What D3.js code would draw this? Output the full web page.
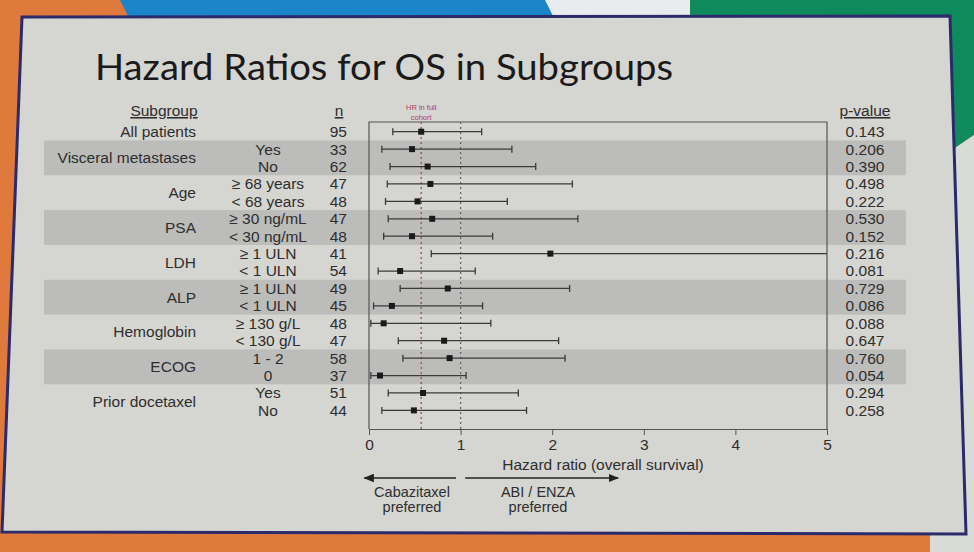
<!DOCTYPE html>
<html>
<head>
<meta charset="utf-8">
<script src="https://cdn.jsdelivr.net/npm/d3@7"></script>
<style>
  html, body { margin: 0; padding: 0; background: #e07a3c; }
  svg { display: block; }
</style>
</head>
<body>
<svg id="chart" width="974" height="552"></svg>
<script>
// ---------- data ----------
const groupLabels = ["All patients", "Visceral metastases", "Age", "PSA", "LDH", "ALP", "Hemoglobin", "ECOG", "Prior docetaxel"];
const groupRows   = [[0], [1, 2], [3, 4], [5, 6], [7, 8], [9, 10], [11, 12], [13, 14], [15, 16]];
const levelLabels = ["", "Yes", "No", "≥ 68 years", "< 68 years", "≥ 30 ng/mL", "< 30 ng/mL", "≥ 1 ULN", "< 1 ULN",
                     "≥ 1 ULN", "< 1 ULN", "≥ 130 g/L", "< 130 g/L", "1 - 2", "0", "Yes", "No"];
const nValues   = [95, 33, 62, 47, 48, 47, 48, 41, 54, 49, 45, 48, 47, 58, 37, 51, 44];
const hrValues  = [0.57, 0.47, 0.64, 0.67, 0.53, 0.69, 0.47, 1.98, 0.34, 0.86, 0.25, 0.16, 0.82, 0.88, 0.12, 0.59, 0.49];
const ciLow     = [0.26, 0.14, 0.23, 0.20, 0.18, 0.21, 0.16, 0.68, 0.10, 0.34, 0.05, 0.02, 0.32, 0.37, 0.02, 0.21, 0.14];
const ciHigh    = [1.23, 1.56, 1.82, 2.22, 1.51, 2.28, 1.35, 5.00, 1.16, 2.19, 1.24, 1.33, 2.07, 2.14, 1.06, 1.63, 1.72];
const pValues   = ["0.143", "0.206", "0.390", "0.498", "0.222", "0.530", "0.152", "0.216", "0.081", "0.729",
                   "0.086", "0.088", "0.647", "0.760", "0.054", "0.294", "0.258"];
const shadedGroups = [1, 3, 5, 7];
const fullCohortHR = 0.57;
const xTicks = [0, 1, 2, 3, 4, 5];

// ---------- setup ----------
const svg = d3.select("#chart");
const font = "'Liberation Sans', Arial, sans-serif";
const fs = 15.5;
const textCol = "#2e2e2e";

// background decoration (photo surroundings)
svg.append("rect").attr("x", 0).attr("y", 0).attr("width", 974).attr("height", 552).attr("fill", "#e07a3c");
svg.append("path").attr("d", "M120,0 L560,0 L545,30 L135,30 Z").attr("fill", "#1b85c9");
svg.append("path").attr("d", "M545,0 L700,0 L690,30 L560,30 Z").attr("fill", "#e9ecee");
svg.append("rect").attr("x", 690).attr("y", 0).attr("width", 284).attr("height", 30).attr("fill", "#0f8a5c");
svg.append("path").attr("d", "M930,0 L974,0 L974,135 L930,165 Z").attr("fill", "#0f8a5c");
svg.append("path").attr("d", "M930,165 L974,135 L974,552 L930,552 Z").attr("fill", "#d9dbd6");

// slide
svg.append("path")
  .attr("d", "M22,17 L950,16 L966,534 L2,532 Z")
  .attr("fill", "#d5d5d1")
  .attr("stroke", "#2b2a6b")
  .attr("stroke-width", 3);

// title
svg.append("text")
  .attr("x", 95).attr("y", 80)
  .attr("font-family", "Lato, 'Open Sans', sans-serif")
  .attr("font-size", 36)
  .attr("fill", "#1a1a1a")
  .attr("textLength", 578)
  .attr("lengthAdjust", "spacingAndGlyphs")
  .text("Hazard Ratios for OS in Subgroups");

// scales
const x = d3.scaleLinear().domain([0, 5]).range([369, 827]);
const rowIdx = d3.range(nValues.length);
const y = d3.scaleBand().domain(rowIdx).range([123, 419.1]).paddingInner(0).paddingOuter(0);
const yc = i => y(i) + y.bandwidth() / 2;

// shaded bands
shadedGroups.forEach(g => {
  const rows = groupRows[g];
  svg.append("rect")
    .attr("x", 44).attr("width", 862)
    .attr("y", y(rows[0])).attr("height", y.bandwidth() * rows.length)
    .attr("fill", "#bcbcba");
});

// plot box
const boxTop = 122, boxBottom = 429;
svg.append("path")
  .attr("d", `M${x(0)},${boxBottom} L${x(0)},${boxTop} L${x(5)},${boxTop} L${x(5)},${boxBottom}`)
  .attr("fill", "none").attr("stroke", "#555").attr("stroke-width", 1.2);

// axis
const axis = d3.axisBottom(x).tickValues(xTicks).tickSize(6).tickSizeOuter(0).tickFormat(d3.format("d"));
const gAxis = svg.append("g").attr("transform", `translate(0,${boxBottom})`).call(axis);
gAxis.select(".domain").attr("stroke", "#555").attr("stroke-width", 1.2);
gAxis.selectAll(".tick line").attr("stroke", "#555");
gAxis.selectAll(".tick text").attr("font-family", font).attr("font-size", fs).attr("fill", textCol).attr("dy", "0.75em");

// reference lines
svg.append("line")
  .attr("x1", x(1)).attr("x2", x(1)).attr("y1", boxTop).attr("y2", boxBottom)
  .attr("stroke", "#666").attr("stroke-width", 1.3).attr("stroke-dasharray", "2,3");
svg.append("line")
  .attr("x1", x(fullCohortHR)).attr("x2", x(fullCohortHR)).attr("y1", boxTop).attr("y2", boxBottom)
  .attr("stroke", "#b0405e").attr("stroke-width", 1.3).attr("stroke-dasharray", "2,3");
svg.append("text").attr("x", x(fullCohortHR)).attr("y", 110)
  .attr("text-anchor", "middle").attr("font-family", font).attr("font-size", 7.5).attr("fill", "#b0405e")
  .text("HR in full");
svg.append("text").attr("x", x(fullCohortHR)).attr("y", 119.5)
  .attr("text-anchor", "middle").attr("font-family", font).attr("font-size", 7.5).attr("fill", "#b0405e")
  .text("cohort");

// CI lines
const ci = svg.append("g");
rowIdx.forEach(i => {
  const yy = yc(i);
  ci.append("line").attr("x1", x(ciLow[i])).attr("x2", x(Math.min(ciHigh[i], 5))).attr("y1", yy).attr("y2", yy)
    .attr("stroke", "#3a3a3a").attr("stroke-width", 1.3);
  ci.append("line").attr("x1", x(ciLow[i])).attr("x2", x(ciLow[i])).attr("y1", yy - 3.5).attr("y2", yy + 3.5)
    .attr("stroke", "#3a3a3a").attr("stroke-width", 1.3);
  if (ciHigh[i] < 5) {
    ci.append("line").attr("x1", x(ciHigh[i])).attr("x2", x(ciHigh[i])).attr("y1", yy - 3.5).attr("y2", yy + 3.5)
      .attr("stroke", "#3a3a3a").attr("stroke-width", 1.3);
  }
  ci.append("rect").attr("x", x(hrValues[i]) - 3).attr("y", yy - 3).attr("width", 6).attr("height", 6)
    .attr("fill", "#1a1a1a");
});

// table headers
function header(tx, txt) {
  svg.append("text").attr("x", tx).attr("y", 116).attr("text-anchor", "middle")
    .attr("font-family", font).attr("font-size", fs).attr("fill", textCol)
    .attr("text-decoration", "underline").text(txt);
}
header(164, "Subgroup");
header(339, "n");
header(865, "p-value");

// group labels
groupLabels.forEach((g, gi) => {
  const rows = groupRows[gi];
  const yy = (yc(rows[0]) + yc(rows[rows.length - 1])) / 2;
  svg.append("text").attr("x", 196).attr("y", yy).attr("dy", "0.35em").attr("text-anchor", "end")
    .attr("font-family", font).attr("font-size", fs).attr("fill", textCol).text(g);
});

// level labels, n, p-values
rowIdx.forEach(i => {
  const yy = yc(i);
  if (levelLabels[i]) {
    svg.append("text").attr("x", 268).attr("y", yy).attr("dy", "0.35em").attr("text-anchor", "middle")
      .attr("font-family", font).attr("font-size", fs).attr("fill", textCol).text(levelLabels[i]);
  }
  svg.append("text").attr("x", 347).attr("y", yy).attr("dy", "0.35em").attr("text-anchor", "end")
    .attr("font-family", font).attr("font-size", fs).attr("fill", textCol).text(nValues[i]);
  svg.append("text").attr("x", 865).attr("y", yy).attr("dy", "0.35em").attr("text-anchor", "middle")
    .attr("font-family", font).attr("font-size", fs).attr("fill", textCol).text(pValues[i]);
});

// axis title
svg.append("text").attr("x", 603).attr("y", 470).attr("text-anchor", "middle")
  .attr("font-family", font).attr("font-size", fs).attr("fill", textCol)
  .text("Hazard ratio (overall survival)");

// arrows
const defs = svg.append("defs");
defs.append("marker").attr("id", "arrowhead").attr("viewBox", "0 0 10 10").attr("refX", 9).attr("refY", 5)
  .attr("markerWidth", 7).attr("markerHeight", 7).attr("orient", "auto-start-reverse")
  .append("path").attr("d", "M0,1 L10,5 L0,9 Z").attr("fill", "#222");
svg.append("line").attr("x1", x(0.95)).attr("x2", x(-0.05)).attr("y1", 478).attr("y2", 478)
  .attr("stroke", "#222").attr("stroke-width", 1.5).attr("marker-end", "url(#arrowhead)");
svg.append("line").attr("x1", x(1.05)).attr("x2", x(2.72)).attr("y1", 478).attr("y2", 478)
  .attr("stroke", "#222").attr("stroke-width", 1.5).attr("marker-end", "url(#arrowhead)");

[["Cabazitaxel", 412, 497], ["preferred", 412, 512], ["ABI / ENZA", 538, 497], ["preferred", 538, 512]].forEach(d => {
  svg.append("text").attr("x", d[1]).attr("y", d[2]).attr("text-anchor", "middle")
    .attr("font-family", font).attr("font-size", fs - 1).attr("fill", textCol).text(d[0]);
});
</script>
</body>
</html>
